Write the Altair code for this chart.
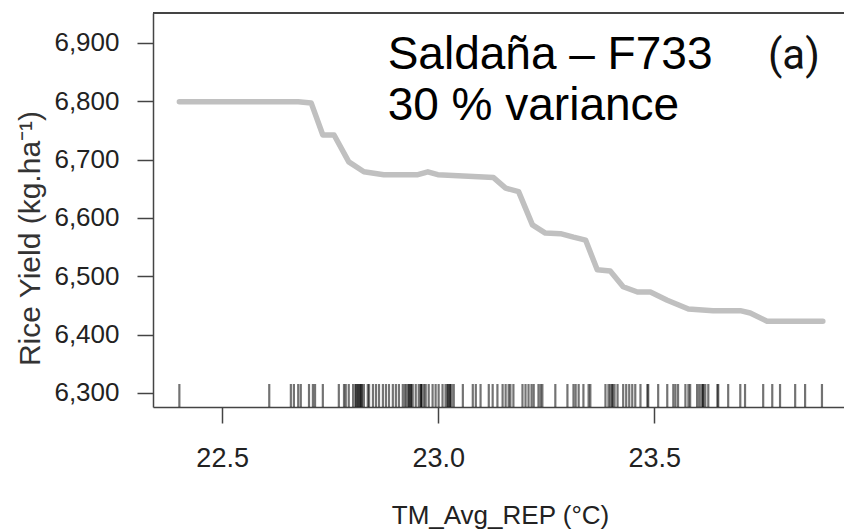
import altair as alt
import pandas as pd

# Partial dependence of rice yield on mean temperature (REP stage)
curve_temp = [22.401, 22.583, 22.676, 22.706, 22.733, 22.759, 22.793, 22.828, 22.874,
              22.953, 22.976, 22.999, 23.105, 23.128, 23.156, 23.186, 23.218, 23.248,
              23.283, 23.313, 23.341, 23.368, 23.398, 23.428, 23.461, 23.491, 23.530,
              23.579, 23.636, 23.699, 23.722, 23.761, 23.890]
curve_yield = [6799, 6799, 6799, 6797, 6742, 6742, 6696, 6679, 6674,
               6674, 6679, 6674, 6670, 6669, 6651, 6645, 6588, 6574,
               6573, 6567, 6562, 6511, 6509, 6482, 6473, 6473, 6459,
               6444, 6441, 6441, 6437, 6423, 6423]

# Observed temperatures (rug)
rug_temp = [22.401, 22.609, 22.659, 22.666, 22.676, 22.682, 22.701, 22.710, 22.715, 22.733,
            22.770, 22.782, 22.786, 22.793, 22.803, 22.809, 22.809, 22.814, 22.814, 22.819,
            22.819, 22.823, 22.823, 22.828, 22.837, 22.840, 22.849, 22.856, 22.863, 22.872,
            22.879, 22.886, 22.895, 22.902, 22.909, 22.918, 22.923, 22.927, 22.932, 22.932,
            22.937, 22.937, 22.941, 22.948, 22.955, 22.960, 22.960, 22.962, 22.967, 22.971,
            22.978, 22.987, 22.994, 23.001, 23.010, 23.017, 23.022, 23.022, 23.027, 23.027,
            23.031, 23.036, 23.057, 23.080, 23.087, 23.098, 23.117, 23.126, 23.137,
            23.149, 23.156, 23.163, 23.167, 23.174, 23.195, 23.202, 23.209, 23.216, 23.221,
            23.232, 23.237, 23.241, 23.271, 23.299, 23.313, 23.318, 23.325, 23.336, 23.348,
            23.352, 23.387, 23.394, 23.398, 23.403, 23.403, 23.408, 23.415, 23.428, 23.435,
            23.442, 23.449, 23.456, 23.468, 23.484, 23.486, 23.509, 23.530, 23.544, 23.549,
            23.555, 23.572, 23.579, 23.583, 23.599, 23.604, 23.609, 23.613, 23.613, 23.618,
            23.625, 23.646, 23.648, 23.671, 23.699, 23.710, 23.752, 23.773, 23.791, 23.826,
            23.849, 23.888]

x_ticks = [22.5, 23.0, 23.5]
y_ticks = [6300, 6400, 6500, 6600, 6700, 6800, 6900]
x_domain = [22.34, 23.939]
y_domain = [6276, 6951]

# Annotation text, anchored in data units
note_t = [22.883, 22.883]
note_y = [6855, 6768]
note_label = ["Saldaña – F733", "30 % variance"]
panel_t = [23.763]
panel_y = [6855]
panel_label = ["(a)"]

W, H = 691, 394
FONT = "Liberation Sans"

curve = pd.DataFrame({"t": curve_temp, "y": curve_yield})
rug = pd.DataFrame({"t": rug_temp})
notes = pd.DataFrame({"t": note_t, "y": note_y, "label": note_label})
panel = pd.DataFrame({"t": panel_t, "y": panel_y, "label": panel_label})

x_scale = alt.Scale(domain=x_domain, nice=False, zero=False)
y_scale = alt.Scale(domain=y_domain, nice=False, zero=False)

x_axis = alt.Axis(values=x_ticks, format=".1f", title="TM_Avg_REP (°C)",
                  grid=False, tickSize=16, labelFontSize=27, labelPadding=22,
                  titleFontSize=26, titleFontWeight="normal", titleColor="#222",
                  titleBaseline="alphabetic", titleX=347, titleY=116,
                  labelColor="#222", domainColor="#444", tickColor="#444",
                  domainWidth=1.5, tickWidth=1.5, labelFont=FONT, titleFont=FONT)
y_axis = alt.Axis(values=y_ticks, format=",d", title="Rice Yield (kg.ha⁻¹)",
                  grid=False, tickSize=16, labelFontSize=26, labelPadding=18,
                  titleFontSize=30, titleFontWeight="normal", titleColor="#333",
                  titleX=-108, titleY=225,
                  labelColor="#222", domainColor="#444", tickColor="#444",
                  domainWidth=1.5, tickWidth=1.5, labelFont=FONT, titleFont=FONT)

line = alt.Chart(curve).mark_line(
    color="#c0c0c0", strokeWidth=5.5, strokeJoin="round", strokeCap="round"
).encode(
    x=alt.X("t:Q", scale=x_scale, axis=x_axis),
    y=alt.Y("y:Q", scale=y_scale, axis=y_axis),
)

rug_marks = alt.Chart(rug).mark_rule(
    color="#000000", opacity=0.55, strokeWidth=2.2
).encode(
    x=alt.X("t:Q", scale=x_scale),
    y=alt.value(H - 23),
    y2=alt.value(H),
)

top_frame = alt.Chart(curve).mark_rule(color="#444", strokeWidth=1.5).encode(
    x=alt.value(0), x2=alt.value(W), y=alt.value(0)
)

note_text = alt.Chart(notes).mark_text(
    align="left", baseline="alphabetic", fontSize=46, color="#000", font=FONT
).encode(
    x=alt.X("t:Q", scale=x_scale),
    y=alt.Y("y:Q", scale=y_scale),
    text="label:N",
)

panel_text = alt.Chart(panel).mark_text(
    align="left", baseline="alphabetic", fontSize=42, color="#111",
    font="Liberation Sans Narrow, Roboto"
).encode(
    x=alt.X("t:Q", scale=x_scale),
    y=alt.Y("y:Q", scale=y_scale),
    text="label:N",
)

chart = alt.layer(line, rug_marks, top_frame, note_text, panel_text).properties(
    width=W, height=H,
    autosize=alt.AutoSizeParams(type="none"),
    padding={"left": 153, "top": 13, "right": 0, "bottom": 125},
    background="white",
).configure_view(stroke=None)

chart.save("out.html", embed_options={"renderer": "svg", "actions": False})
